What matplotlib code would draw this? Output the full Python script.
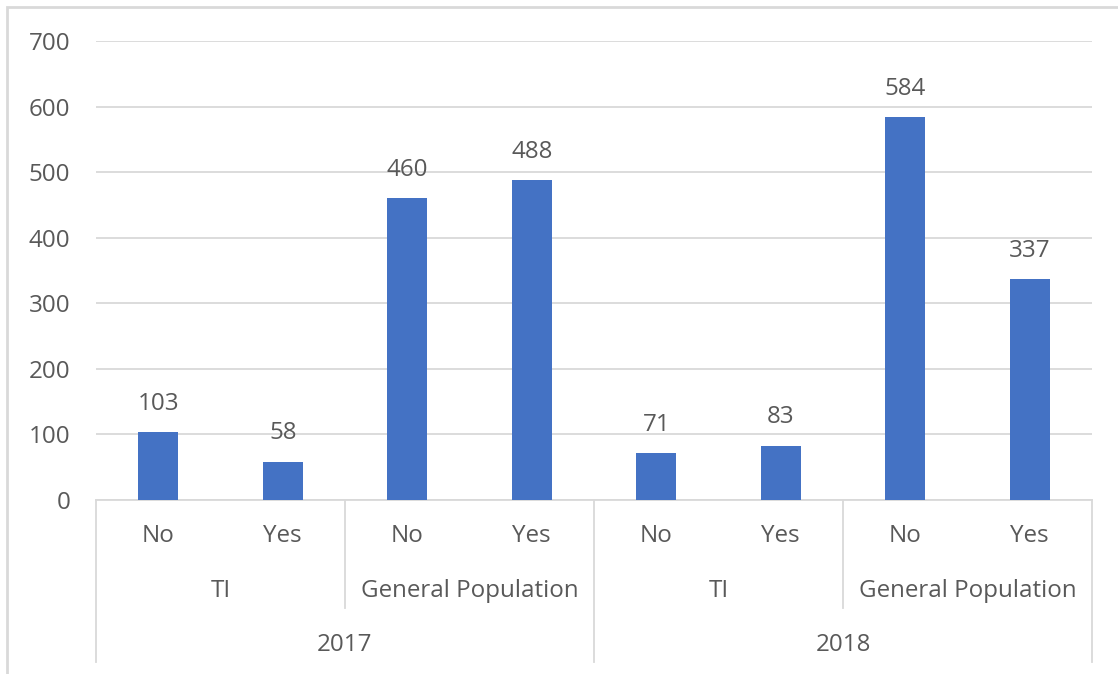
import matplotlib
matplotlib.use("Agg")
import matplotlib.pyplot as plt
import matplotlib.transforms as mtransforms
from matplotlib.patches import Rectangle

answers = ["No", "Yes", "No", "Yes", "No", "Yes", "No", "Yes"]
groups = ["TI", "General Population", "TI", "General Population"]
years = ["2017", "2018"]
values = [103, 58, 460, 488, 71, 83, 584, 337]
yticks = [0, 100, 200, 300, 400, 500, 600, 700]

BAR = "#4472C4"
GRID = "#D9D9D9"
TXT = "#595959"
FONT = "Open Sans"
FS = 17.4
plt.rcParams['font.family'] = [FONT, 'DejaVu Sans']

W, H = 1118, 674
fig = plt.figure(figsize=(W / 100, H / 100), dpi=100)
ax = fig.add_axes([96 / W, 1 - 500 / H, (1092 - 96) / W, (500 - 41) / H])

x = list(range(len(values)))
ax.bar(x, values, width=0.32, color=BAR, zorder=3)
for xi, v in zip(x, values):
    ax.annotate(str(v), (xi, v), xytext=(0, 20.5), textcoords="offset points",
                ha="center", va="center", fontsize=FS, color=TXT)

ax.set_xlim(-0.5, len(values) - 0.5)
ax.set_ylim(0, 700)
ax.set_yticks(yticks)
ax.set_yticklabels([str(t) for t in yticks])
ax.tick_params(axis="y", length=0, pad=18.5, labelsize=FS, labelcolor=TXT)
ax.set_xticks([])
ax.yaxis.grid(True, color=GRID, linewidth=1.3, zorder=0)
for s in ["top", "right", "left"]:
    ax.spines[s].set_visible(False)
ax.spines["bottom"].set_color(GRID)
ax.spines["bottom"].set_linewidth(1.3)

trans = mtransforms.blended_transform_factory(ax.transData, ax.transAxes)
def yfrac(py):
    return (500 - py) / (500 - 41)

for xi, a in zip(x, answers):
    ax.text(xi, yfrac(536), a, transform=trans, ha="center", va="center",
            fontsize=FS, color=TXT)
for gi, g in enumerate(groups):
    ax.text(gi * 2 + 0.5, yfrac(591), g, transform=trans, ha="center", va="center",
            fontsize=FS, color=TXT)
for yi, yr in enumerate(years):
    ax.text(yi * 4 + 1.5, yfrac(645), yr, transform=trans, ha="center", va="center",
            fontsize=FS, color=TXT)

for sx in [-0.5, 3.5, 7.5]:
    ax.plot([sx, sx], [0, yfrac(662)], transform=trans, color=GRID, lw=1.3, clip_on=False)
for sx in [1.5, 5.5]:
    ax.plot([sx, sx], [0, yfrac(608)], transform=trans, color=GRID, lw=1.3, clip_on=False)

fig.patches.append(Rectangle((7 / W, -0.1), 2.0, 1 - 7 / H + 0.1, transform=fig.transFigure,
                             fill=False, edgecolor=GRID, linewidth=2))

fig.savefig("out.png", dpi=100, facecolor="white")
